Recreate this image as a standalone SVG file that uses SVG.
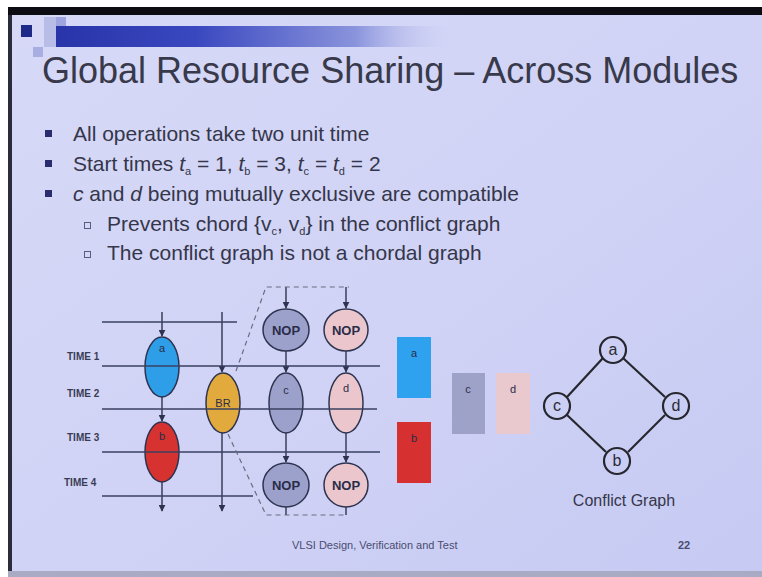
<svg xmlns="http://www.w3.org/2000/svg" width="762" height="577" viewBox="0 0 762 577">
  <defs>
    <linearGradient id="slideBg" x1="0" y1="0" x2="1" y2="1">
      <stop offset="0" stop-color="#d7d9f7"/>
      <stop offset="0.6" stop-color="#cfd2f5"/>
      <stop offset="1" stop-color="#c6c9f2"/>
    </linearGradient>
    <linearGradient id="titleBar" x1="0" y1="0" x2="1" y2="0">
      <stop offset="0" stop-color="#2834a8"/>
      <stop offset="0.35" stop-color="#3a48c0"/>
      <stop offset="0.75" stop-color="#8a94dc"/>
      <stop offset="1" stop-color="#cfd2f5" stop-opacity="0"/>
    </linearGradient>
    <marker id="arrow" viewBox="0 0 10 10" refX="9" refY="5" markerWidth="5" markerHeight="5" orient="auto">
      <path d="M0,0 L10,5 L0,10 z" fill="#2e3450"/>
    </marker>
    <style>
      .txt { font-family: "Liberation Sans", Arial, sans-serif; fill: #35364a; }
      .title { font-size: 36px; fill: #38394a; }
      .bullet { font-size: 21px; }
      .foot { font-size: 11px; fill: #4a4c70; }
      .time { font-family: "Liberation Sans", Arial, sans-serif; font-size: 10px; font-weight: bold; fill: #3a3c55; }
      .grid { stroke: #3a4060; stroke-width: 1.3; fill: none; }
      .wire { stroke: #2e3450; stroke-width: 1.4; fill: none; }
      .wireA { stroke: #2e3450; stroke-width: 1.4; fill: none; marker-end: url(#arrow); }
      .dash { stroke: #6a6c80; stroke-width: 1.2; fill: none; stroke-dasharray: 5 4; }
      .op { stroke: #2e3450; stroke-width: 1.5; }
      .opl { font-family: "Liberation Sans", Arial, sans-serif; font-size: 11px; fill: #2a2c48; text-anchor: middle; }
      .nop { font-family: "Liberation Sans", Arial, sans-serif; font-size: 13px; font-weight: bold; fill: #2a2c48; text-anchor: middle; }
      .blue { fill: #2e9ee8; }
      .red { fill: #d63230; }
      .gold { fill: #e2aa3c; }
      .slate { fill: #9ca1cc; }
      .pink { fill: #ebc7cd; }
      .cg { fill: none; stroke: #26272e; stroke-width: 2.2; }
      .cgl { font-family: "Liberation Sans", Arial, sans-serif; font-size: 16px; fill: #2a2b36; text-anchor: middle; }
    </style>
  </defs>

  <!-- page and slide frame -->
  <rect x="0" y="0" width="762" height="577" fill="#ffffff"/>
  <rect x="8" y="7" width="754" height="570" fill="url(#slideBg)"/>
  <rect x="8" y="7" width="754" height="8" fill="#0c0c12"/>
  <rect x="8" y="15" width="4" height="562" fill="#2a2c3c"/>
  <rect x="8" y="571" width="754" height="6" fill="#a9abc4"/>

  <!-- title decoration -->
  <rect x="44" y="17" width="12" height="30" fill="#b8bde8"/>
  <rect x="56" y="17" width="10" height="12" fill="#9ea4e0"/>
  <rect x="21" y="25" width="11" height="12" fill="#1e2a88"/>
  <rect x="33" y="47" width="10" height="10" fill="#a8aee2"/>
  <rect x="56" y="26" width="400" height="21" fill="url(#titleBar)"/>

  <text class="txt title" x="42" y="83">Global Resource Sharing – Across Modules</text>

  <!-- bullet list -->
  <g class="txt bullet">
    <rect x="45" y="130" width="7" height="7" fill="#2a2c70"/>
    <text x="73" y="141">All operations take two unit time</text>
    <rect x="45" y="160" width="7" height="7" fill="#2a2c70"/>
    <text x="73" y="171">Start times <tspan font-style="italic">t</tspan><tspan font-size="11" dy="4">a</tspan><tspan dy="-4"> = 1, </tspan><tspan font-style="italic">t</tspan><tspan font-size="11" dy="4">b</tspan><tspan dy="-4"> = 3, </tspan><tspan font-style="italic">t</tspan><tspan font-size="11" dy="4">c</tspan><tspan dy="-4"> = </tspan><tspan font-style="italic">t</tspan><tspan font-size="11" dy="4">d</tspan><tspan dy="-4"> = 2</tspan></text>
    <rect x="45" y="190" width="7" height="7" fill="#2a2c70"/>
    <text x="73" y="201"><tspan font-style="italic">c</tspan> and <tspan font-style="italic">d</tspan> being mutually exclusive are compatible</text>
    <rect x="84.5" y="222.5" width="6" height="6" fill="none" stroke="#5a5c80" stroke-width="1"/>
    <text x="107" y="231">Prevents chord {v<tspan font-size="11" dy="4">c</tspan><tspan dy="-4">, v</tspan><tspan font-size="11" dy="4">d</tspan><tspan dy="-4">} in the conflict graph</tspan></text>
    <rect x="84.5" y="251.5" width="6" height="6" fill="none" stroke="#5a5c80" stroke-width="1"/>
    <text x="107" y="260">The conflict graph is not a chordal graph</text>
  </g>

  <!-- time step labels -->
  <g id="time-labels">
    <text class="time" x="67" y="360">TIME 1</text>
    <text class="time" x="67" y="397">TIME 2</text>
    <text class="time" x="67" y="441">TIME 3</text>
    <text class="time" x="64" y="486">TIME 4</text>
  </g>

  <!-- operation nodes -->
  <g id="node-a">
    <ellipse class="op blue" cx="162" cy="367" rx="17" ry="30"/>
    <text class="opl" x="162" y="352">a</text>
  </g>
  <g id="node-b">
    <ellipse class="op red" cx="162" cy="452" rx="17" ry="30"/>
    <text class="opl" x="162" y="440">b</text>
  </g>
  <g id="node-br">
    <ellipse class="op gold" cx="223" cy="403" rx="17" ry="30"/>
    <text class="opl" x="223" y="407">BR</text>
  </g>
  <g id="node-nop1">
    <ellipse class="op slate" cx="286" cy="330" rx="23" ry="21"/>
    <text class="nop" x="286" y="335">NOP</text>
  </g>
  <g id="node-nop2">
    <ellipse class="op pink" cx="346" cy="330" rx="22" ry="21"/>
    <text class="nop" x="346" y="335">NOP</text>
  </g>
  <g id="node-c">
    <ellipse class="op slate" cx="286" cy="403" rx="17" ry="30"/>
    <text class="opl" x="286" y="394">c</text>
  </g>
  <g id="node-d">
    <ellipse class="op pink" cx="346" cy="403" rx="17" ry="30"/>
    <text class="opl" x="346" y="392">d</text>
  </g>
  <g id="node-nop3">
    <ellipse class="op slate" cx="286" cy="485" rx="23" ry="22"/>
    <text class="nop" x="286" y="490">NOP</text>
  </g>
  <g id="node-nop4">
    <ellipse class="op pink" cx="346" cy="485" rx="22" ry="22"/>
    <text class="nop" x="346" y="490">NOP</text>
  </g>

  <!-- connectors, grid and expansion outline -->
  <g id="connectors">
    <line class="wireA" x1="162" y1="312" x2="162" y2="336"/>
    <line class="wireA" x1="162" y1="397" x2="162" y2="421"/>
    <line class="wireA" x1="162" y1="482" x2="162" y2="511"/>
    <line class="wireA" x1="222" y1="312" x2="222" y2="372"/>
    <line class="wireA" x1="222" y1="433" x2="222" y2="511"/>
    <line class="wireA" x1="286" y1="287" x2="286" y2="308"/>
    <line class="wireA" x1="286" y1="351" x2="286" y2="372"/>
    <line class="wireA" x1="286" y1="433" x2="286" y2="462"/>
    <line class="wire" x1="286" y1="507" x2="286" y2="515"/>
    <line class="wireA" x1="346" y1="287" x2="346" y2="308"/>
    <line class="wireA" x1="346" y1="351" x2="346" y2="372"/>
    <line class="wireA" x1="346" y1="433" x2="346" y2="462"/>
    <line class="wire" x1="346" y1="507" x2="346" y2="515"/>

    <line class="grid" x1="102" y1="322" x2="237" y2="322"/>
    <line class="grid" x1="102" y1="366" x2="380" y2="366"/>
    <line class="grid" x1="102" y1="409" x2="377" y2="409"/>
    <line class="grid" x1="102" y1="452" x2="380" y2="452"/>
    <line class="grid" x1="102" y1="496" x2="253" y2="496"/>

    <path class="dash" d="M236,371 L266,287 L349,287"/>
    <path class="dash" d="M228,434 L266,515 L347,515"/>
  </g>

  <!-- resource bindings -->
  <g id="res-a">
    <rect x="397" y="337" width="34" height="61" fill="#2ea2ef"/>
    <text class="opl" x="414" y="357">a</text>
  </g>
  <g id="res-b">
    <rect x="397" y="422" width="34" height="61" fill="#d63030"/>
    <text class="opl" x="414" y="442">b</text>
  </g>
  <g id="res-c">
    <rect x="452" y="373" width="33" height="61" fill="#9ea2c8"/>
    <text class="opl" x="468" y="393">c</text>
  </g>
  <g id="res-d">
    <rect x="496" y="373" width="34" height="61" fill="#e9c9ce"/>
    <text class="opl" x="513" y="393">d</text>
  </g>

  <!-- conflict graph -->
  <g id="cg-edges">
    <line class="cg" x1="603" y1="358" x2="567" y2="397"/>
    <line class="cg" x1="623" y1="358" x2="665" y2="397"/>
    <line class="cg" x1="567" y1="415" x2="606" y2="452"/>
    <line class="cg" x1="665" y1="415" x2="628" y2="452"/>
  </g>
  <g id="cg-a">
    <circle class="cg" cx="613" cy="350" r="13"/>
    <text class="cgl" x="613" y="355">a</text>
  </g>
  <g id="cg-c">
    <circle class="cg" cx="557" cy="406" r="13"/>
    <text class="cgl" x="557" y="411">c</text>
  </g>
  <g id="cg-d">
    <circle class="cg" cx="676" cy="406" r="13"/>
    <text class="cgl" x="676" y="411">d</text>
  </g>
  <g id="cg-b">
    <circle class="cg" cx="617" cy="461" r="13"/>
    <text class="cgl" x="617" y="466">b</text>
  </g>
  <text class="txt" x="624" y="506" font-size="16" text-anchor="middle" fill="#3a3b4c">Conflict Graph</text>

  <!-- footer -->
  <text class="txt foot" x="292" y="549">VLSI Design, Verification and Test</text>
  <text class="txt foot" x="678" y="549" font-weight="bold" fill="#2a2c50">22</text>
</svg>
